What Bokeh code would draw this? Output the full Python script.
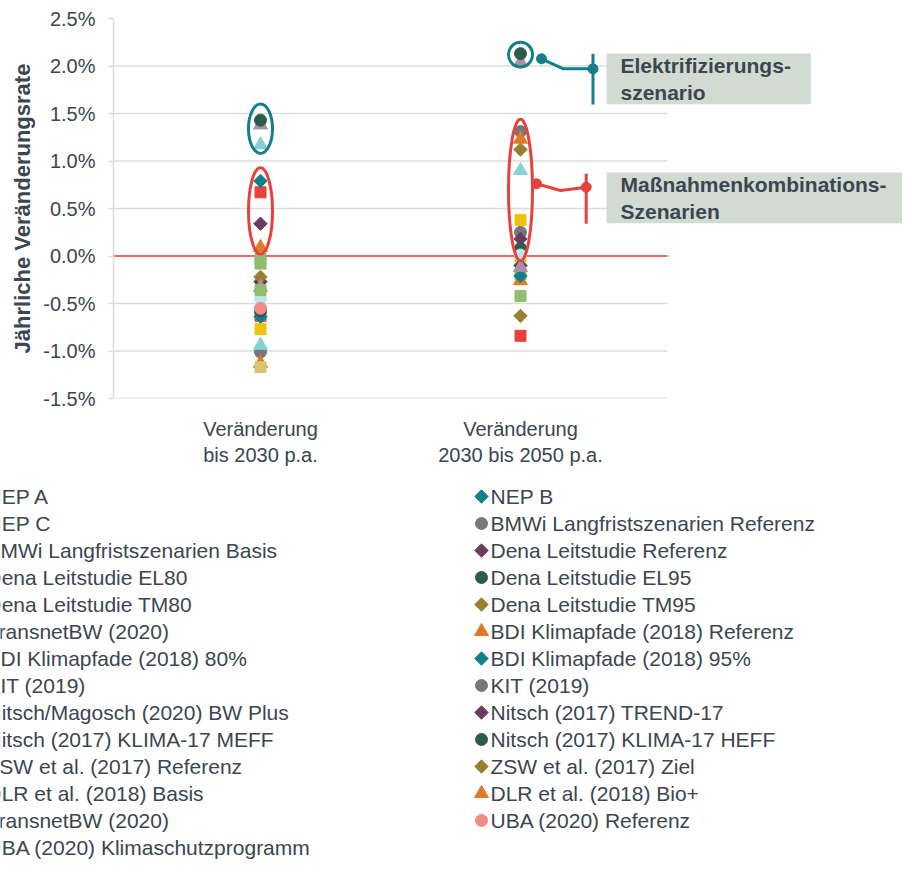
import math
from bokeh.plotting import figure
from bokeh.layouts import column
from bokeh.models import (Range1d, FixedTicker, PrintfTickFormatter, Label, ColumnDataSource)
from bokeh.core.properties import value
from bokeh.embed import file_html
from bokeh.resources import INLINE

# ---------------- data ----------------
categories = ["Veränderung\nbis 2030 p.a.", "Veränderung\n2030 bis 2050 p.a."]
y_ticks = [-1.5, -1.0, -0.5, 0.0, 0.5, 1.0, 1.5, 2.0, 2.5]

series_names = [
    "NEP A", "NEP B", "NEP C",
    "BMWi Langfristszenarien Referenz", "BMWi Langfristszenarien Basis",
    "Dena Leitstudie Referenz", "Dena Leitstudie EL80", "Dena Leitstudie EL95",
    "Dena Leitstudie TM80", "Dena Leitstudie TM95",
    "TransnetBW (2020)",
    "BDI Klimapfade (2018) Referenz", "BDI Klimapfade (2018) 80%", "BDI Klimapfade (2018) 95%",
    "KIT (2019)", "KIT (2019)",
    "Nitsch/Magosch (2020) BW Plus", "Nitsch (2017) TREND-17",
    "Nitsch (2017) KLIMA-17 MEFF", "Nitsch (2017) KLIMA-17 HEFF",
    "ZSW et al. (2017) Referenz", "ZSW et al. (2017) Ziel",
    "DLR et al. (2018) Basis", "DLR et al. (2018) Bio+",
    "TransnetBW (2020)",
    "UBA (2020) Referenz", "UBA (2020) Klimaschutzprogramm",
]
series_markers = [
    "square", "diamond", "triangle",
    "circle", "square",
    "diamond", "triangle", "circle",
    "square", "diamond",
    "circle",
    "triangle", "square", "diamond",
    "triangle", "circle",
    "square", "diamond",
    "triangle", "circle",
    "square", "diamond",
    "circle", "triangle",
    "square",
    "circle", "square",
]
series_colors = [
    "#e8413c", "#127f89", "#86d1d4",
    "#76777b", "#efc20f",
    "#6b3b60", "#a88fab", "#2d5b4d",
    "#8ebe6c", "#9b7f31",
    "#c0e5ea",
    "#df7a27", "#e8413c", "#127f89",
    "#86d1d4", "#76777b",
    "#efc20f", "#6b3b60",
    "#a88fab", "#2d5b4d",
    "#8ebe6c", "#9b7f31",
    "#c0e5ea", "#df7a27",
    "#d8c66d",
    "#f28b83", "#8ebe6c",
]
NA = float("nan")
rate_2030 = [
    -0.63, -0.64, 1.17,
    -1.01, -0.77,
    -0.27, 1.38, 1.43,
    -0.08, -0.22,
    -0.45,
    -1.13, 0.67, 0.79,
    -0.94, NA,
    NA, 0.34,
    -0.33, -0.58,
    -0.36, NA,
    NA, 0.09,
    -1.17,
    -0.55, -0.03,
]
rate_2050 = [
    NA, NA, NA,
    0.25, 0.00,
    -0.10, 2.04, 2.13,
    -0.19, -0.63,
    NA,
    -0.26, -0.84, -0.21,
    0.90, 1.31,
    0.38, 0.18,
    -0.12, 0.08,
    -0.42, 1.12,
    0.01, 1.23,
    NA,
    NA, NA,
]

# highlighted groups (ranges in % enclosed by the ellipses)
group_names = ["Elektrifizierungs-\nszenario", "Maßnahmenkombinations-\nSzenarien"]
group_colors = ["#127f89", "#e8413c"]
group_lo = [[1.08, 1.99], [0.02, -0.05]]
group_hi = [[1.60, 2.25], [0.93, 1.44]]

TEXT = "#3a4651"
GRID = "#d8dfd8"
FONT = "Liberation Sans"

# ---------------- main figure ----------------
UNIT = 260.0                      # pixels per category step
X_START = -(260 - 113) / UNIT     # left frame edge
X_GRID_END = (667 - 260) / UNIT   # where the value grid ends
X_END = X_START + 789 / UNIT      # frame extends to the right edge (label boxes)

p = figure(width=902, height=470, output_backend="svg", toolbar_location=None,
           x_range=Range1d(X_START, X_END), y_range=Range1d(-1.5, 2.5),
           min_border_left=113, min_border_right=0, min_border_top=18,
           min_border_bottom=72)
p.frame_align = False
p.outline_line_color = None
p.background_fill_color = "white"
p.border_fill_color = "white"

yax = p.yaxis[0]
yax.ticker = FixedTicker(ticks=y_ticks)
yax.formatter = PrintfTickFormatter(format="%.1f%%")
yax.axis_line_color = GRID
yax.axis_line_width = 1.5
yax.major_tick_line_color = GRID
yax.major_tick_line_width = 1.5
yax.major_tick_out = 5
yax.major_tick_in = 0
yax.minor_tick_line_color = None
yax.major_label_standoff = 13
yax.major_label_text_font = FONT
yax.major_label_text_font_size = "20px"
yax.major_label_text_color = TEXT
yax.axis_label = "Jährliche Veränderungsrate"
yax.axis_label_text_font = FONT
yax.axis_label_text_font_style = "bold"
yax.axis_label_text_font_size = "22px"
yax.axis_label_text_color = TEXT
yax.axis_label_standoff = 5

xax = p.xaxis[0]
xax.ticker = FixedTicker(ticks=[0, 1])
xax.major_label_overrides = {0: categories[0], 1: categories[1]}
xax.axis_line_color = None
xax.major_tick_line_color = None
xax.minor_tick_line_color = None
xax.major_label_standoff = 13
xax.major_label_text_font = FONT
xax.major_label_text_font_size = "20px"
xax.major_label_text_color = TEXT

p.xgrid.grid_line_color = None
p.ygrid.grid_line_color = None

# value grid (ends before the label boxes) and zero line
grid_y = y_ticks[:-1]
p.segment(x0=[X_START] * len(grid_y), y0=grid_y, x1=[X_GRID_END] * len(grid_y), y1=grid_y,
          line_color=GRID, line_width=1.5, level="underlay")
p.segment(x0=[X_START], y0=[0.0], x1=[X_GRID_END], y1=[0.0],
          line_color="#e8413c", line_width=1.5, level="underlay")

# ---------------- series ----------------
def add_marker(fig, mk, col, source):
    if mk == "diamond":
        return fig.scatter("x", "y", source=source, marker="square", angle=math.pi / 4,
                           size=9.5, fill_color=col, line_color=col)
    if mk == "circle":
        return fig.scatter("x", "y", source=source, marker="circle", size=12,
                           fill_color=col, line_color=col)
    if mk == "triangle":
        return fig.scatter("x", "y", source=source, marker="triangle", size=14,
                           fill_color=col, line_color=col)
    return fig.scatter("x", "y", source=source, marker="square", size=11,
                       fill_color=col, line_color=col)

for mk, col, a, b in zip(series_markers, series_colors, rate_2030, rate_2050):
    add_marker(p, mk, col, ColumnDataSource(dict(x=[0, 1], y=[a, b])))

# ---------------- highlight ellipses ----------------
ell_w = 24 / UNIT
for gi in range(2):
    xs, ys, hs = [], [], []
    for ci in range(2):
        lo, hi = group_lo[gi][ci], group_hi[gi][ci]
        xs.append(ci)
        ys.append((lo + hi) / 2)
        hs.append(hi - lo)
    p.ellipse(x=xs, y=ys, width=ell_w, height=hs, fill_color=None,
              line_color=group_colors[gi], line_width=3)

# connectors from the 2050 ellipses to the labels
conn = [
    dict(dx=[21, 43, 72.5], y=[2.076, 1.97, 1.97], bar=(2.13, 1.595)),
    dict(dx=[16, 40, 65.7], y=[0.76, 0.69, 0.724], bar=(0.865, 0.339)),
]
for gi, c in enumerate(conn):
    col = group_colors[gi]
    cx = [1 + d / UNIT for d in c["dx"]]
    p.line(cx, c["y"], line_color=col, line_width=3)
    p.segment(x0=[cx[-1]], y0=[c["bar"][0]], x1=[cx[-1]], y1=[c["bar"][1]],
              line_color=col, line_width=3)
    p.scatter([cx[0], cx[-1]], [c["y"][0], c["y"][-1]], marker="circle",
              size=10, fill_color=col, line_color=col)

# label boxes (screen offsets from frame's bottom-left)
box_left = 493
box_tops = [345, 226]
box_pad_right = [20, 80]
for gi in range(2):
    p.add_layout(Label(x=box_left, y=box_tops[gi], x_units="screen", y_units="screen",
                       text=group_names[gi], text_align="left", text_baseline="top",
                       text_font=FONT, text_font_style="bold", text_font_size="21px",
                       text_color=TEXT, text_line_height=1.21,
                       background_fill_color="#d2dbd2", background_fill_alpha=1.0,
                       padding=dict(left=14, right=box_pad_right[gi], top=0, bottom=0)))

# ---------------- legend (two columns, row-wise order) ----------------
LEG_H = 391
p2 = figure(width=902, height=LEG_H, output_backend="svg", toolbar_location=None,
            x_range=Range1d(0, 902), y_range=Range1d(LEG_H, 0), min_border=0,
            x_axis_location=None, y_axis_location=None)
p2.frame_align = False
p2.grid.grid_line_color = None
p2.outline_line_color = None

col_marker_x = [-23, 481]
col_text_x = [-14, 490]
row_first, row_pitch = 26, 27
leg_x, leg_y, leg_tx = [], [], []
for i in range(len(series_names)):
    c, r = i % 2, i // 2
    leg_x.append(col_marker_x[c])
    leg_tx.append(col_text_x[c])
    leg_y.append(row_first + r * row_pitch)

for i, (mk, col) in enumerate(zip(series_markers, series_colors)):
    add_marker(p2, mk, col, ColumnDataSource(dict(x=[leg_x[i]], y=[leg_y[i]])))

p2.text(x=leg_tx, y=leg_y, text=series_names, text_baseline="middle", text_align="left",
        text_font=value(FONT), text_font_size="21px", text_color=TEXT)

open("out.html", "w").write(file_html(column(p, p2, spacing=0), INLINE))
